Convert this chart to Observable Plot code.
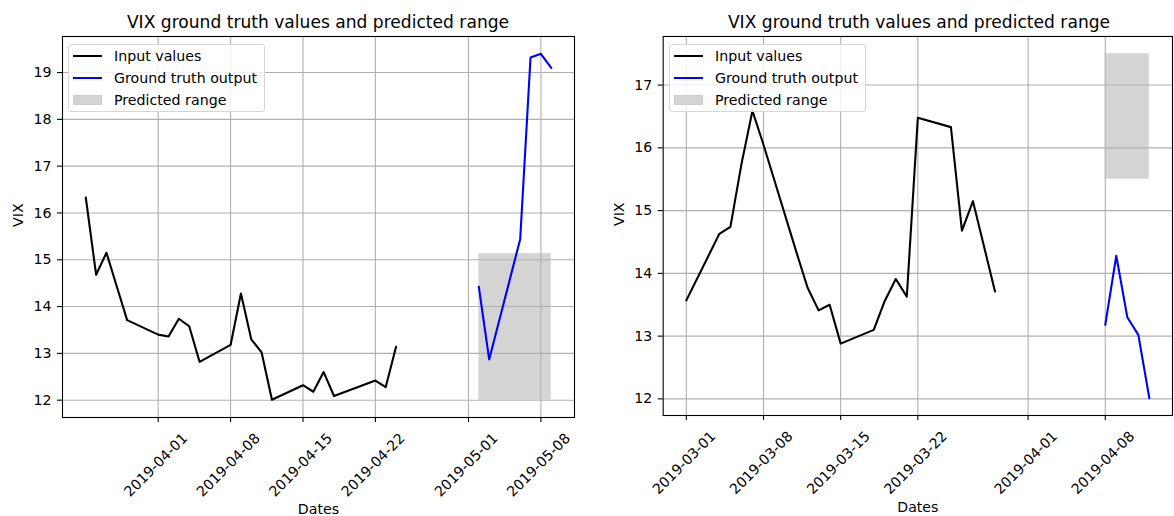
<!DOCTYPE html>
<html><head><meta charset="utf-8">
<script src="https://cdn.jsdelivr.net/npm/d3@7"></script>
<script src="https://cdn.jsdelivr.net/npm/@observablehq/plot@0.6"></script>
<style>
html,body{margin:0;padding:0;background:#fff;overflow:hidden;}
#fig{position:relative;width:1174px;height:516px;overflow:hidden;font-family:"DejaVu Sans",sans-serif;color:#000;}
.panel{position:absolute;top:30px;}
.title{position:absolute;top:14px;font-size:17.1px;line-height:17.1px;white-space:nowrap;transform:translateX(-50%);}
.legend{position:absolute;width:195px;height:66px;border:1px solid #d6d6d6;border-radius:3px;background:rgba(255,255,255,0.8);}
.item{position:absolute;left:45px;font-size:14.2px;line-height:16px;white-space:nowrap;}
.sw{position:absolute;left:4px;width:29px;}
</style>
</head><body><div id="fig"></div>
<script>
// ---- Data ----
const titleText = "VIX ground truth values and predicted range";
const legendLabels = ["Input values", "Ground truth output", "Predicted range"];

// Left panel
const leftInputDates = ["2019-03-25","2019-03-26","2019-03-27","2019-03-28","2019-03-29",
  "2019-04-01","2019-04-02","2019-04-03","2019-04-04","2019-04-05",
  "2019-04-08","2019-04-09","2019-04-10","2019-04-11","2019-04-12",
  "2019-04-15","2019-04-16","2019-04-17","2019-04-18",
  "2019-04-22","2019-04-23","2019-04-24"];
const leftInputValues = [16.33,14.68,15.15,14.43,13.71,13.40,13.36,13.74,13.58,12.82,
  13.18,14.28,13.30,13.02,12.01,12.32,12.18,12.60,12.09,12.42,12.28,13.14];
const leftOutputDates = ["2019-05-02","2019-05-03","2019-05-06","2019-05-07","2019-05-08","2019-05-09"];
const leftOutputValues = [14.42,12.87,15.44,19.32,19.40,19.10];
const leftRange = {start: "2019-05-02", end: "2019-05-09", low: 12.0, high: 15.13};
const leftXTicks = ["2019-04-01","2019-04-08","2019-04-15","2019-04-22","2019-05-01","2019-05-08"];
const leftYTicks = [12,13,14,15,16,17,18,19];

// Right panel
const rightInputDates = ["2019-03-01","2019-03-04","2019-03-05","2019-03-06","2019-03-07","2019-03-08",
  "2019-03-11","2019-03-12","2019-03-13","2019-03-14","2019-03-15",
  "2019-03-18","2019-03-19","2019-03-20","2019-03-21","2019-03-22",
  "2019-03-25","2019-03-26","2019-03-27","2019-03-28","2019-03-29"];
const rightInputValues = [13.57,14.63,14.74,15.74,16.59,16.05,14.33,13.77,13.41,13.50,12.88,
  13.10,13.56,13.91,13.63,16.48,16.33,14.68,15.15,14.43,13.71];
const rightOutputDates = ["2019-04-08","2019-04-09","2019-04-10","2019-04-11","2019-04-12"];
const rightOutputValues = [13.18,14.28,13.30,13.02,12.01];
const rightRange = {start: "2019-04-08", end: "2019-04-12", low: 15.5, high: 17.5};
const rightXTicks = ["2019-03-01","2019-03-08","2019-03-15","2019-03-22","2019-04-01","2019-04-08"];
const rightYTicks = [12,13,14,15,16,17];

// ---- Helpers ----
const P = s => new Date(s + "T00:00:00Z");
const pad = ([a, b]) => { const d = (b - a) * 0.05; return [a - d, b + d]; };
const FS = 14.2;

function makePanel(cfg) {
  const input = cfg.inDates.map((d, i) => ({date: P(d), value: cfg.inVals[i]}));
  const output = cfg.outDates.map((d, i) => ({date: P(d), value: cfg.outVals[i]}));
  const range = [{x1: P(cfg.range.start), x2: P(cfg.range.end), y1: cfg.range.low, y2: cfg.range.high}];
  const allX = [...input, ...output].map(d => +d.date).concat([+range[0].x1, +range[0].x2]);
  const allY = [...input, ...output].map(d => d.value).concat([range[0].y1, range[0].y2]);
  const xd = pad([d3.min(allX), d3.max(allX)]).map(t => new Date(t));
  const yd = pad([d3.min(allY), d3.max(allY)]);
  const xt = cfg.xTicks.map(P);
  const grid = {stroke: "#b0b0b0", strokeOpacity: 1, strokeWidth: 1.1};
  return Plot.plot({
    width: cfg.width, height: 486,
    marginTop: 6, marginBottom: 99, marginLeft: cfg.ml, marginRight: cfg.mr,
    x: {type: "utc", domain: xd},
    y: {domain: yd},
    style: {fontFamily: "DejaVu Sans, sans-serif", fontSize: FS + "px", color: "black", background: "transparent", overflow: "visible"},
    marks: [
      Plot.rect(range, {x1: "x1", x2: "x2", y1: "y1", y2: "y2", fill: "#d4d4d4"}),
      Plot.gridX(xt, grid),
      Plot.gridY(cfg.yTicks, grid),
      Plot.line(input, {x: "date", y: "value", stroke: "black", strokeWidth: 2.1}),
      Plot.line(output, {x: "date", y: "value", stroke: "blue", strokeWidth: 2.1}),
      Plot.frame({stroke: "black", strokeWidth: 1.1}),
      Plot.axisY(cfg.yTicks, {tickSize: 5, tickPadding: 6, tickFormat: d => String(d), label: null, fontSize: FS, strokeWidth: 1.1}),
      Plot.axisX(xt, {tickSize: 5, tickFormat: () => "", label: null, strokeWidth: 1.1}),
      Plot.text(xt, {x: d => d, text: cfg.xTicks, frameAnchor: "bottom", lineAnchor: "middle", rotate: -45, textAnchor: "end", dx: 27, dy: 18.5, fontSize: FS, fill: "black"}),
      Plot.text(["VIX"], {text: d => d, frameAnchor: "left", lineAnchor: "middle", rotate: -90, dx: -44, fontSize: FS, fill: "black"}),
      Plot.text(["Dates"], {text: d => d, frameAnchor: "bottom", lineAnchor: "middle", dy: 92, fontSize: FS, fill: "black"})
    ]
  });
}

const fig = document.getElementById("fig");
function addPanel(left, cfg, titleX, legLeft) {
  const div = document.createElement("div");
  div.className = "panel";
  div.style.left = left + "px";
  div.appendChild(makePanel(cfg));
  fig.appendChild(div);
  const t = document.createElement("div");
  t.className = "title"; t.style.left = titleX + "px"; t.textContent = titleText;
  fig.appendChild(t);
  const lg = document.createElement("div");
  lg.className = "legend"; lg.style.left = legLeft + "px"; lg.style.top = "44px";
  const rows = [11, 33, 55];
  const kinds = [{c: "black"}, {c: "blue"}, {patch: true}];
  legendLabels.forEach((lab, i) => {
    const sw = document.createElement("div");
    sw.className = "sw";
    if (kinds[i].patch) {
      sw.style.top = (rows[i] - 5) + "px"; sw.style.height = "10px";
      sw.style.background = "#d4d4d4"; sw.style.boxSizing = "border-box"; sw.style.border = "1px solid #cfcfcf";
    } else {
      sw.style.top = (rows[i] - 1) + "px"; sw.style.height = "2px"; sw.style.background = kinds[i].c;
    }
    lg.appendChild(sw);
    const it = document.createElement("div");
    it.className = "item"; it.style.top = (rows[i] - 8) + "px"; it.textContent = lab;
    lg.appendChild(it);
  });
  fig.appendChild(lg);
}

addPanel(0, {width: 600, ml: 62, mr: 26, inDates: leftInputDates, inVals: leftInputValues,
  outDates: leftOutputDates, outVals: leftOutputValues, range: leftRange,
  xTicks: leftXTicks, yTicks: leftYTicks}, 318, 68);
addPanel(600, {width: 577, ml: 63, mr: 2, inDates: rightInputDates, inVals: rightInputValues,
  outDates: rightOutputDates, outVals: rightOutputValues, range: rightRange,
  xTicks: rightXTicks, yTicks: rightYTicks}, 919, 669);
</script></body></html>
